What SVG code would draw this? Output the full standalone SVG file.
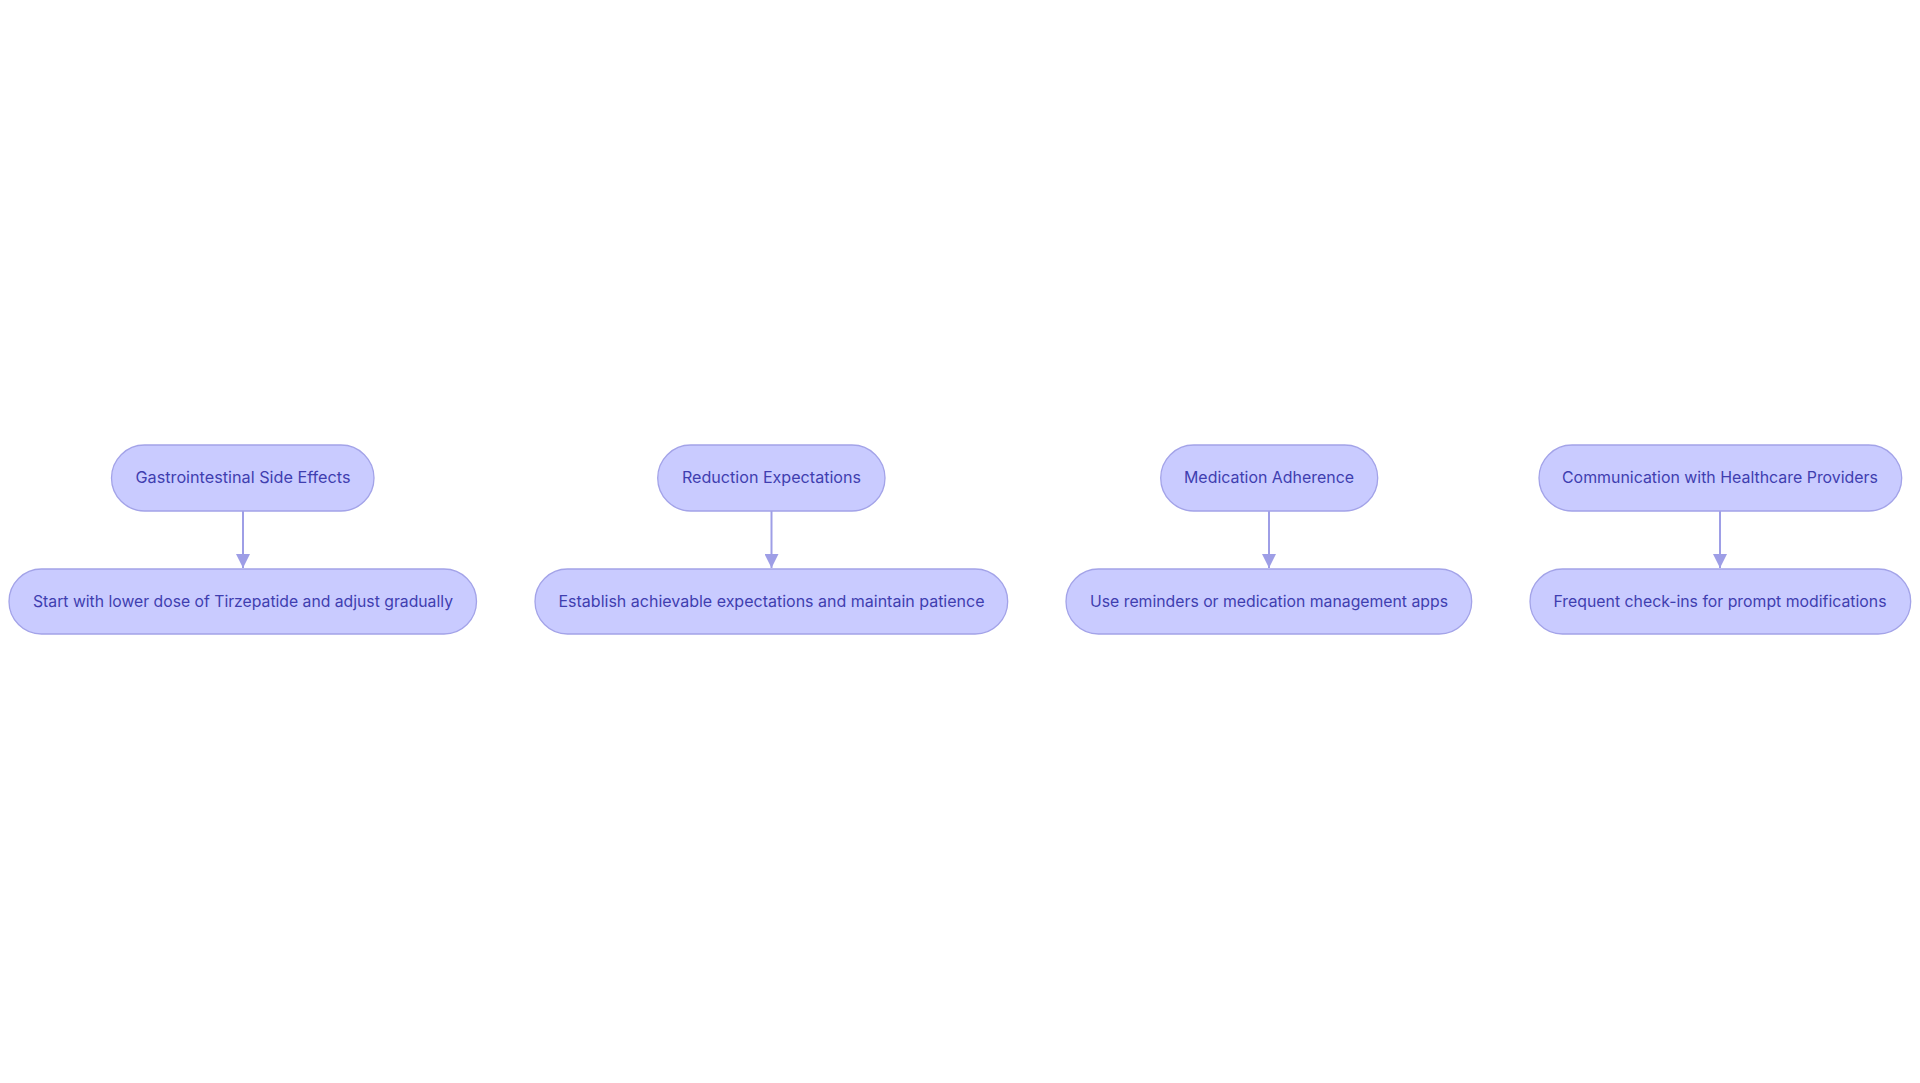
<svg xmlns="http://www.w3.org/2000/svg" width="1920" height="1083" viewBox="0 0 1920 1083">
<style>
.node rect{fill:#c9cbff;stroke:#a3a3e8;stroke-width:1.3}
.node text{font-family:Inter,"Noto Sans",sans-serif;font-size:16px;font-weight:400;fill:#3f3eb0;text-anchor:middle;dominant-baseline:central}
.edge{stroke:#9e9ee6;stroke-width:2;fill:none}
</style>
<defs>
<marker id="arr" viewBox="0 0 10 10" refX="10" refY="5" markerWidth="7" markerHeight="7" orient="auto" markerUnits="strokeWidth">
<path d="M0,0 L10,5 L0,10 z" fill="#9e9ee6"/>
</marker>
</defs>
<rect width="1920" height="1083" fill="#ffffff"/>
<g id="connectors">
<line class="edge" x1="243" y1="511" x2="243" y2="568" marker-end="url(#arr)"/>
<line class="edge" x1="771.5" y1="511" x2="771.5" y2="568" marker-end="url(#arr)"/>
<line class="edge" x1="1269" y1="511" x2="1269" y2="568" marker-end="url(#arr)"/>
<line class="edge" x1="1720" y1="511" x2="1720" y2="568" marker-end="url(#arr)"/>
</g>
<g id="n1" class="node"><rect x="111.5" y="445" width="262.5" height="66" rx="33"/><text x="243" y="477" textLength="215" lengthAdjust="spacingAndGlyphs">Gastrointestinal Side Effects</text></g>
<g id="n1b" class="node"><rect x="9" y="569" width="467.5" height="65" rx="32.5"/><text x="243" y="601" textLength="420" lengthAdjust="spacingAndGlyphs">Start with lower dose of Tirzepatide and adjust gradually</text></g>
<g id="n2" class="node"><rect x="657.7" y="445" width="227.3" height="66" rx="33"/><text x="771.5" y="477" textLength="179" lengthAdjust="spacingAndGlyphs">Reduction Expectations</text></g>
<g id="n2b" class="node"><rect x="535" y="569" width="472.7" height="65" rx="32.5"/><text x="771.5" y="601" textLength="426" lengthAdjust="spacingAndGlyphs">Establish achievable expectations and maintain patience</text></g>
<g id="n3" class="node"><rect x="1160.7" y="445" width="217" height="66" rx="33"/><text x="1269" y="477" textLength="170" lengthAdjust="spacingAndGlyphs">Medication Adherence</text></g>
<g id="n3b" class="node"><rect x="1066" y="569" width="405.7" height="65" rx="32.5"/><text x="1269" y="601" textLength="358" lengthAdjust="spacingAndGlyphs">Use reminders or medication management apps</text></g>
<g id="n4" class="node"><rect x="1539" y="445" width="362.7" height="66" rx="33"/><text x="1720" y="477" textLength="316" lengthAdjust="spacingAndGlyphs">Communication with Healthcare Providers</text></g>
<g id="n4b" class="node"><rect x="1530" y="569" width="380.7" height="65" rx="32.5"/><text x="1720" y="601" textLength="333" lengthAdjust="spacingAndGlyphs">Frequent check-ins for prompt modifications</text></g>
</svg>
